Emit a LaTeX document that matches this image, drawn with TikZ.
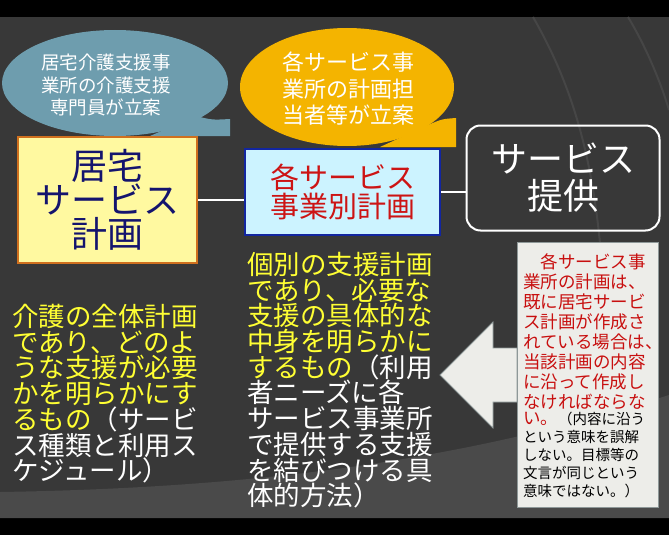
\documentclass[tikz,border=0pt]{standalone}
\usepackage{fontspec}
\setmainfont{Noto Sans CJK JP}
\usetikzlibrary{shapes.geometric}
\lineskiplimit=-100pt
\definecolor{bgdark}{HTML}{383838}
\definecolor{bgband}{HTML}{4A4A4A}
\definecolor{bgarc}{HTML}{464646}
\definecolor{bubblue}{HTML}{6E9DAE}
\definecolor{buborange}{HTML}{F4B400}
\definecolor{boxonefill}{HTML}{FFF9A0}
\definecolor{boxoneedge}{HTML}{D0701E}
\definecolor{boxonetext}{HTML}{14146E}
\definecolor{boxtwofill}{HTML}{CCF3FF}
\definecolor{boxtwoedge}{HTML}{1226A0}
\definecolor{boxtwotext}{HTML}{CC1414}
\definecolor{notefill}{HTML}{EDEDE9}
\definecolor{noteedge}{HTML}{8E9898}
\definecolor{notered}{HTML}{C80F0F}
\definecolor{hiyellow}{HTML}{FFFF33}
\begin{document}
\begin{tikzpicture}[x=1pt,y=-1pt,
  bubtext/.style={inner sep=0pt, text=white, align=center},
  planbox/.style={rectangle, inner sep=0pt, align=center},
  link/.style={draw=white, line width=2pt},
  colnote/.style={inner sep=0pt, align=left, anchor=north west, font=\fontsize{26.5}{25.7}\selectfont},
]
\useasboundingbox (0,0) rectangle (669,535);
% background
\fill[black] (0,0) rectangle (669,535);
\fill[bgdark] (0,17) rectangle (669,518);
\fill[bgband] (0,492) .. controls (250,488) and (460,462) .. (669,395) -- (669,518) -- (0,518) -- cycle;
\draw[bgarc, line width=2pt] (533,17) .. controls (575,90) and (598,170) .. (604,300);
\draw[bgarc, line width=2pt] (628,17) .. controls (645,45) and (660,80) .. (669,110);

% speech bubbles
\fill[bubblue] (196,116) .. controls (212,120) .. (230,119) -- (230,136) -- (150,136) -- cycle;
\fill[bubblue] (115,83) ellipse [x radius=113, y radius=53];
\node[bubtext, font=\fontsize{18.5}{22.5}\selectfont] (careplan) at (106,85)
  {居宅介護支援事\\業所の介護支援\\専門員が立案};
\fill[buborange] (428,125) .. controls (442,119) .. (456,118) -- (456,147) -- (380,147) -- cycle;
\fill[buborange] (347,87) ellipse [x radius=107, y radius=59];
\node[bubtext, font=\fontsize{22}{26.5}\selectfont] (servplan) at (348,89)
  {各サービス事\\業所の計画担\\当者等が立案};

% main boxes
\node[planbox, draw=boxoneedge, fill=boxonefill, line width=2pt,
      minimum width=179pt, minimum height=126pt, text=boxonetext,
      font=\fontsize{36}{34}\selectfont] (home) at (107.5,200)
  {居宅\\サービス\\計画};
\node[planbox, draw=boxtwoedge, fill=boxtwofill, line width=2.5pt,
      minimum width=195pt, minimum height=86pt, text=boxtwotext,
      font=\fontsize{29}{29}\selectfont] (each) at (342.5,192)
  {各サービス\\事業別計画};
\node[planbox, draw=white, rounded corners=14pt, line width=2pt,
      minimum width=193pt, minimum height=105pt, text=white,
      font=\fontsize{36}{37}\selectfont] (provide) at (563,178)
  {サービス\\提供};
\draw[link] (home.east) -- (home.east -| each.west);
\draw[link] (each.east) -- (each.east -| provide.west);

% arrow and note box
\filldraw[fill=notefill, draw=noteedge, line width=0.8pt]
  (440,375) -- (493,322) -- (493,348) -- (517,348) -- (517,402) -- (493,402) -- (493,428) -- cycle;
\node[rectangle, draw=noteedge, fill=notefill, line width=1pt,
      minimum width=141pt, minimum height=265pt] (note) at (587.5,374.5) {};
\node[inner sep=0pt, align=left, anchor=north west, text=notered,
      font=\fontsize{17.5}{20}\selectfont] (noteA) at (523,253)
  {　各サービス事\\業所の計画は、\\既に居宅サービ\\ス計画が作成さ\\れている場合は、\\当該計画の内容\\に沿って作成し\\なければならな};
\node[inner sep=0pt, align=left, anchor=north west, text=black,
      font=\fontsize{14.5}{18}\selectfont] (noteB) at (523,412)
  {{\fontsize{17.5}{18}\selectfont\color{notered}い。}（内容に沿う\\という意味を誤解\\しない。目標等の\\文言が同じという\\意味ではない。）};

% column texts
\node[colnote, text=white] (homedesc) at (12,304)
  {{\color{hiyellow}介護の全体計画}\\{\color{hiyellow}であり、どのよ}\\{\color{hiyellow}うな支援が必要}\\{\color{hiyellow}かを明らかにす}\\{\color{hiyellow}るもの}（サービ\\ス種類と利用ス\\ケジュール）};
\node[colnote, text=white] (eachdesc) at (247,252)
  {{\color{hiyellow}個別の支援計画}\\{\color{hiyellow}であり、必要な}\\{\color{hiyellow}支援の具体的な}\\{\color{hiyellow}中身を明らかに}\\{\color{hiyellow}するもの}（利用\\者ニーズに各\\サービス事業所\\で提供する支援\\を結びつける具\\体的方法）};
\end{tikzpicture}
\end{document}
